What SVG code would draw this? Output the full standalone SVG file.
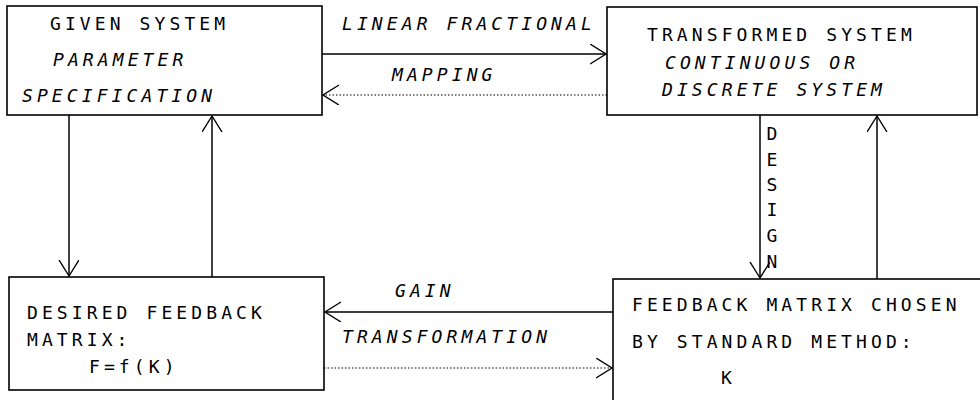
<svg xmlns="http://www.w3.org/2000/svg" width="980" height="400" viewBox="0 0 980 400">
<style>
.box{fill:#fff;stroke:#000;stroke-width:1.6}
.t{font-family:"DejaVu Sans Mono","Liberation Mono",monospace;font-size:18px;letter-spacing:4.1px;fill:#000}
.i{font-style:italic}
.c{fill:none;stroke:#000;stroke-width:1.5}
.d{fill:none;stroke:#000;stroke-width:1.2;stroke-dasharray:1.5 2}
</style>
<defs>
<marker id="ah" markerUnits="userSpaceOnUse" markerWidth="20" markerHeight="22" refX="16" refY="10" orient="auto">
<path d="M0,0 L16,10 L0,20" fill="none" stroke="#000" stroke-width="1.4"/>
</marker>
</defs>
<rect x="0" y="0" width="980" height="400" fill="#fff"/>
<g id="given-system">
<rect class="box" x="7" y="6" width="315" height="109"/>
<text class="t" x="50" y="30">GIVEN SYSTEM</text>
<text class="t i" x="53" y="66">PARAMETER</text>
<text class="t i" x="22" y="102">SPECIFICATION</text>
</g>
<g id="transformed-system">
<rect class="box" x="607" y="7" width="370" height="108"/>
<text class="t" x="647" y="41">TRANSFORMED SYSTEM</text>
<text class="t i" x="665" y="69">CONTINUOUS OR</text>
<text class="t i" x="662" y="96">DISCRETE SYSTEM</text>
</g>
<g id="desired-feedback">
<rect class="box" x="9" y="277" width="315" height="113"/>
<text class="t" x="27" y="319">DESIRED FEEDBACK</text>
<text class="t" x="27" y="346">MATRIX:</text>
<text class="t" x="89" y="373">F=f(K)</text>
</g>
<g id="feedback-matrix">
<rect class="box" x="613" y="279" width="370" height="130"/>
<text class="t" x="632" y="311">FEEDBACK MATRIX CHOSEN</text>
<text class="t" x="632" y="348">BY STANDARD METHOD:</text>
<text class="t" x="721" y="384">K</text>
</g>
<g id="connectors">
<line class="c" x1="322" y1="54" x2="606" y2="54" marker-end="url(#ah)"/>
<line class="d" x1="607" y1="95" x2="323" y2="95" marker-end="url(#ah)"/>
<line class="c" x1="760" y1="115" x2="760" y2="278" marker-end="url(#ah)"/>
<line class="c" x1="877" y1="279" x2="877" y2="116" marker-end="url(#ah)"/>
<line class="c" x1="613" y1="312" x2="325" y2="312" marker-end="url(#ah)"/>
<line class="d" x1="324" y1="368" x2="612" y2="368" marker-end="url(#ah)"/>
<line class="c" x1="69" y1="115" x2="69" y2="276" marker-end="url(#ah)"/>
<line class="c" x1="212" y1="277" x2="212" y2="116" marker-end="url(#ah)"/>
<text class="t i" x="342" y="30">LINEAR FRACTIONAL</text>
<text class="t i" x="392" y="81">MAPPING</text>
<text class="t i" x="395" y="297">GAIN</text>
<text class="t i" x="342" y="343">TRANSFORMATION</text>
<g class="t" style="letter-spacing:0" text-anchor="middle">
<text x="772" y="140">D</text>
<text x="772" y="166">E</text>
<text x="772" y="191">S</text>
<text x="772" y="216">I</text>
<text x="772" y="242">G</text>
<text x="772" y="268">N</text>
</g>
</g>
</svg>
